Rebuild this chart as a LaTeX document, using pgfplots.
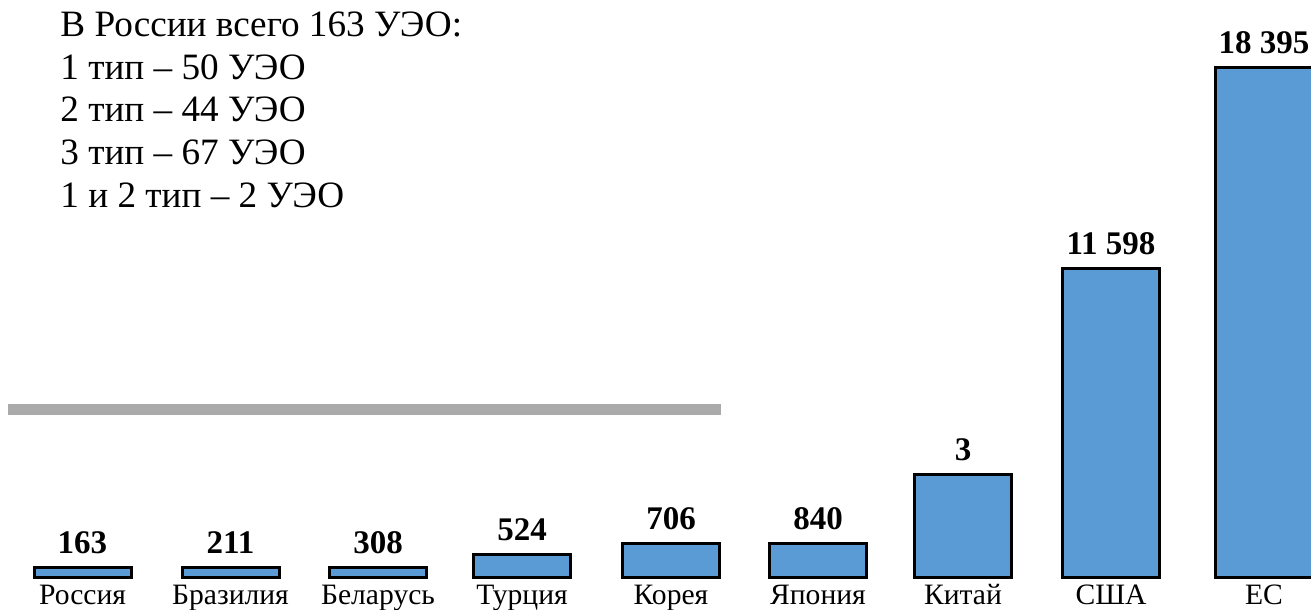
\documentclass[border=0pt]{standalone}
\usepackage{fontspec}
\setmainfont{Liberation Serif}
\usepackage{pgfplots}
\pgfplotsset{compat=1.18}
\definecolor{barblue}{HTML}{5B9BD5}
\definecolor{rulegray}{HTML}{AAAAAA}
\begin{document}
\begin{tikzpicture}
\begin{axis}[
  width=655.5pt, height=305pt, scale only axis,
  xmin=0, xmax=1311, ymin=-32, ymax=578,
  axis line style={draw=none},
  ytick=\empty,
  xtick={82.5,230.5,378,522,671,818,963,1111,1264},
  xticklabels={Россия,Бразилия,Беларусь,Турция,Корея,Япония,Китай,США,ЕС},
  major tick length=0pt,
  xticklabel style={anchor=base, yshift=2.5pt, font=\fontsize{14.8pt}{16pt}\selectfont},
  ybar, bar width=97,
  point meta=explicit symbolic,
  nodes near coords,
  nodes near coords style={anchor=base, yshift=7pt, font=\fontsize{16.5pt}{18pt}\selectfont\bfseries},
]
\fill[rulegray] (axis cs:8,174) rectangle (axis cs:721,163);
\addplot[draw=black, line width=1.5pt, fill=barblue] coordinates {
  (82.5,10) [163]
  (230.5,10) [211]
  (378,10) [308]
  (522,23.5) [524]
  (671,34.5) [706]
  (818,34.5) [840]
  (963,103.5) [3]
  (1111,309.5) [11 598]
  (1264,510.5) [18 395]
};
\begin{scope}[font=\fontsize{18.6pt}{21pt}\selectfont]
\node[anchor=base west, inner sep=0pt] at (axis cs:60,541) {В России всего 163 УЭО:};
\node[anchor=base west, inner sep=0pt] at (axis cs:60,498) {1 тип – 50 УЭО};
\node[anchor=base west, inner sep=0pt] at (axis cs:60,456) {2 тип – 44 УЭО};
\node[anchor=base west, inner sep=0pt] at (axis cs:60,413) {3 тип – 67 УЭО};
\node[anchor=base west, inner sep=0pt] at (axis cs:60,370) {1 и 2 тип – 2 УЭО};
\end{scope}
\end{axis}
\pgfresetboundingbox
\path (0,0) rectangle (655.5pt,305pt);
\end{tikzpicture}
\end{document}
